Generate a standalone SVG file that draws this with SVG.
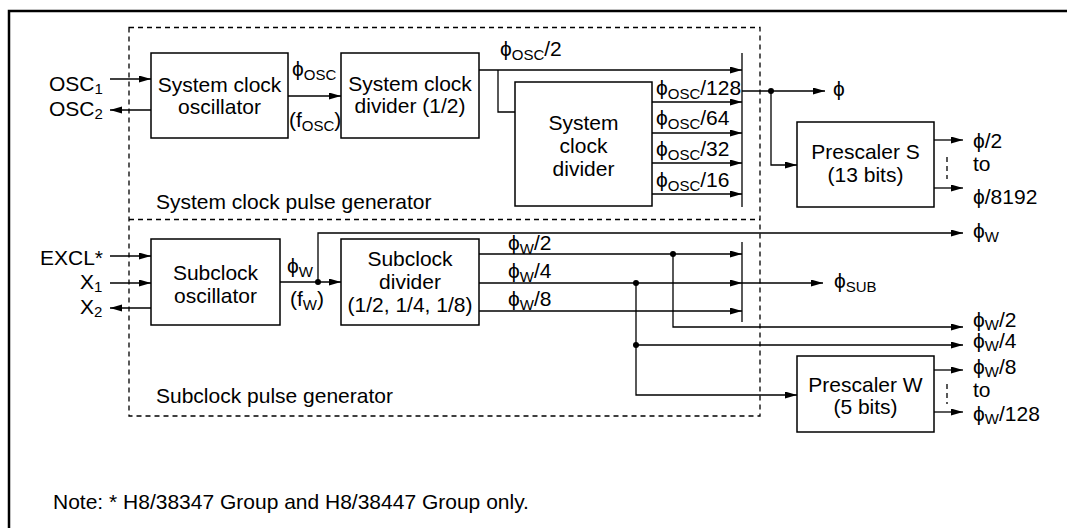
<svg xmlns="http://www.w3.org/2000/svg" width="1067" height="528" viewBox="0 0 1067 528">
<style>
text{font-family:"Liberation Sans",Arial,"DejaVu Sans",sans-serif;font-size:21px;fill:#000}
.c{text-anchor:middle}
.s{font-size:15px}
.box{fill:#fff;stroke:#000;stroke-width:1.5}
.ln{fill:none;stroke:#000;stroke-width:1.3}
.ar{fill:none;stroke:#000;stroke-width:1.3;marker-end:url(#ah)}
.dash{fill:none;stroke:#000;stroke-width:1.3;stroke-dasharray:5 4}
.dot{fill:#000}
</style>
<defs>
<marker id="ah" markerUnits="userSpaceOnUse" markerWidth="13" markerHeight="8" refX="12" refY="3.5" orient="auto">
<path d="M0,0 L12,3.5 L0,7 z" fill="#000"/>
</marker>
</defs>
<rect width="1067" height="528" fill="#fff"/>
<path d="M9,528 V11 H1067" fill="none" stroke="#000" stroke-width="2.5"/>

<g id="generators">
<rect class="dash" x="129" y="27.5" width="631" height="388.5"/>
<line class="dash" x1="129" y1="219.5" x2="760" y2="219.5"/>
<text x="156" y="209">System clock pulse generator</text>
<text x="156" y="403">Subclock pulse generator</text>
</g>

<g id="sys-osc">
<rect class="box" x="151" y="53" width="137" height="85"/>
<text class="c" x="219.5" y="92">System clock</text>
<text class="c" x="219.5" y="114">oscillator</text>
</g>
<g id="sys-div2">
<rect class="box" x="341" y="53" width="138" height="85"/>
<text class="c" x="410" y="91">System clock</text>
<text class="c" x="410" y="113">divider (1/2)</text>
</g>
<g id="sys-div">
<rect class="box" x="515" y="82" width="137" height="124"/>
<text class="c" x="583.5" y="130">System</text>
<text class="c" x="583.5" y="153">clock</text>
<text class="c" x="583.5" y="176">divider</text>
</g>
<g id="prescaler-s">
<rect class="box" x="797" y="122" width="137" height="85"/>
<text class="c" x="865.5" y="159">Prescaler S</text>
<text class="c" x="865.5" y="182">(13 bits)</text>
</g>
<g id="sub-osc">
<rect class="box" x="151" y="239" width="129" height="86"/>
<text class="c" x="215.5" y="280">Subclock</text>
<text class="c" x="215.5" y="303">oscillator</text>
</g>
<g id="sub-div">
<rect class="box" x="341" y="239" width="138" height="86"/>
<text class="c" x="410" y="266">Subclock</text>
<text class="c" x="410" y="289">divider</text>
<text class="c" x="410" y="312">(1/2, 1/4, 1/8)</text>
</g>
<g id="prescaler-w">
<rect class="box" x="797" y="356" width="137" height="76"/>
<text class="c" x="865.5" y="392">Prescaler W</text>
<text class="c" x="865.5" y="414">(5 bits)</text>
</g>

<g id="connectors">
<line class="ar" x1="110" y1="79" x2="151" y2="79"/>
<line class="ar" x1="151" y1="110" x2="110" y2="110"/>
<line class="ar" x1="288" y1="96" x2="341" y2="96"/>
<line class="ar" x1="479" y1="70" x2="742" y2="70"/>
<polyline class="ln" points="498,70 498,112 515,112"/>
<line class="ar" x1="652" y1="102" x2="742" y2="102"/>
<line class="ar" x1="652" y1="133" x2="742" y2="133"/>
<line class="ar" x1="652" y1="163" x2="742" y2="163"/>
<line class="ar" x1="652" y1="194" x2="742" y2="194"/>
<line class="ln" x1="742" y1="53" x2="742" y2="207"/>
<line class="ar" x1="742" y1="91" x2="825" y2="91"/>
<circle class="dot" cx="771" cy="91" r="3"/>
<polyline class="ar" points="771,91 771,165 797,165"/>
<line class="ar" x1="934" y1="140" x2="963" y2="140"/>
<line class="ar" x1="934" y1="188" x2="963" y2="188"/>
<line class="dash" x1="947" y1="157" x2="947" y2="179"/>

<line class="ar" x1="110" y1="256" x2="151" y2="256"/>
<line class="ar" x1="110" y1="283" x2="151" y2="283"/>
<line class="ar" x1="151" y1="308" x2="110" y2="308"/>
<line class="ar" x1="280" y1="282" x2="341" y2="282"/>
<circle class="dot" cx="318" cy="282" r="3"/>
<polyline class="ar" points="318,282 318,233 963,233"/>
<line class="ar" x1="479" y1="254" x2="742" y2="254"/>
<line class="ar" x1="479" y1="283" x2="742" y2="283"/>
<line class="ar" x1="479" y1="311" x2="742" y2="311"/>
<line class="ln" x1="742" y1="242" x2="742" y2="322"/>
<line class="ar" x1="742" y1="283" x2="823" y2="283"/>
<circle class="dot" cx="673" cy="254" r="3"/>
<polyline class="ar" points="673,254 673,327 963,327"/>
<circle class="dot" cx="636" cy="283" r="3"/>
<polyline class="ar" points="636,283 636,395 797,395"/>
<circle class="dot" cx="636" cy="345" r="3"/>
<line class="ar" x1="636" y1="345" x2="963" y2="345"/>
<line class="ar" x1="934" y1="370" x2="963" y2="370"/>
<line class="ar" x1="934" y1="412" x2="963" y2="412"/>
<line class="dash" x1="947" y1="384" x2="947" y2="404"/>
</g>

<g id="labels">
<text x="49" y="91">OSC<tspan class="s" dy="3">1</tspan></text>
<text x="49" y="116">OSC<tspan class="s" dy="3">2</tspan></text>
<text x="292" y="76">ϕ<tspan class="s" dy="4">OSC</tspan></text>
<text x="289" y="127">(f<tspan class="s" dy="4">OSC</tspan><tspan dy="-4">)</tspan></text>
<text x="500" y="56">ϕ<tspan class="s" dy="4">OSC</tspan><tspan dy="-4">/2</tspan></text>
<text x="656" y="95">ϕ<tspan class="s" dy="4">OSC</tspan><tspan dy="-4">/128</tspan></text>
<text x="656" y="125">ϕ<tspan class="s" dy="4">OSC</tspan><tspan dy="-4">/64</tspan></text>
<text x="656" y="156">ϕ<tspan class="s" dy="4">OSC</tspan><tspan dy="-4">/32</tspan></text>
<text x="656" y="187">ϕ<tspan class="s" dy="4">OSC</tspan><tspan dy="-4">/16</tspan></text>
<text x="833" y="96">ϕ</text>
<text x="973" y="148">ϕ/2</text>
<text x="973" y="171">to</text>
<text x="973" y="204">ϕ/8192</text>

<text x="40" y="265">EXCL*</text>
<text x="80" y="289">X<tspan class="s" dy="3">1</tspan></text>
<text x="80" y="314">X<tspan class="s" dy="3">2</tspan></text>
<text x="287" y="273">ϕ<tspan class="s" dy="4">W</tspan></text>
<text x="290" y="306">(f<tspan class="s" dy="4">W</tspan><tspan dy="-4">)</tspan></text>
<text x="508" y="250">ϕ<tspan class="s" dy="4">W</tspan><tspan dy="-4">/2</tspan></text>
<text x="508" y="278">ϕ<tspan class="s" dy="4">W</tspan><tspan dy="-4">/4</tspan></text>
<text x="508" y="306">ϕ<tspan class="s" dy="4">W</tspan><tspan dy="-4">/8</tspan></text>
<text x="973" y="238">ϕ<tspan class="s" dy="4">W</tspan></text>
<text x="834" y="288">ϕ<tspan class="s" dy="4">SUB</tspan></text>
<text x="973" y="327">ϕ<tspan class="s" dy="3">W</tspan><tspan dy="-3">/2</tspan></text>
<text x="973" y="348">ϕ<tspan class="s" dy="3">W</tspan><tspan dy="-3">/4</tspan></text>
<text x="973" y="374">ϕ<tspan class="s" dy="3">W</tspan><tspan dy="-3">/8</tspan></text>
<text x="973" y="397">to</text>
<text x="973" y="421">ϕ<tspan class="s" dy="3">W</tspan><tspan dy="-3">/128</tspan></text>
</g>

<g id="note">
<text x="53" y="509">Note: * H8/38347 Group and H8/38447 Group only.</text>
</g>
</svg>
